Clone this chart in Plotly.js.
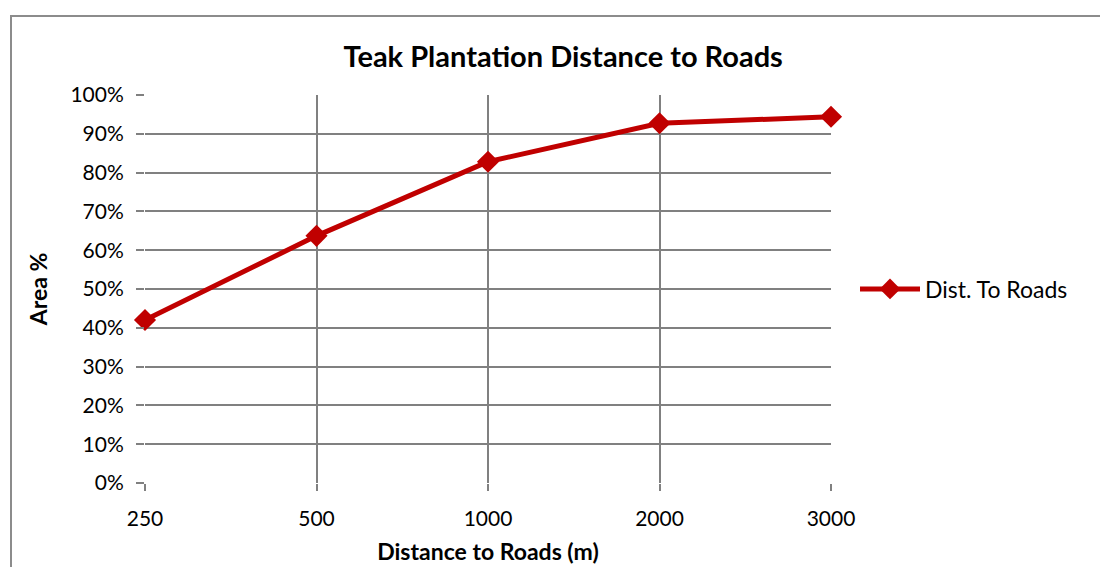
<!DOCTYPE html>
<html>
<head>
<meta charset="utf-8">
<script src="https://cdn.plot.ly/plotly-3.0.1.min.js"></script>
<style>
html,body{margin:0;padding:0;background:#fff;}
#frame{position:absolute;left:10px;top:15px;width:1200px;height:700px;border:2px solid #8c8c8c;box-sizing:border-box;pointer-events:none;z-index:5;}
#chart{position:absolute;left:0;top:0;width:1100px;height:567px;}
</style>
</head>
<body>
<div id="chart"></div>
<div id="frame"></div>
<script>
const categories = ["250", "500", "1000", "2000", "3000"];
const areaPct = [42.0, 63.7, 82.8, 92.7, 94.4];
const yTickVals = [0,10,20,30,40,50,60,70,80,90,100];
const yTickText = ["0%","10%","20%","30%","40%","50%","60%","70%","80%","90%","100%"];
const seriesName = "Dist. To Roads";

const font = "Lato, 'Open Sans', 'Liberation Sans', sans-serif";
const grid = "#808080";

const trace = {
  x: categories,
  y: areaPct,
  type: "scatter",
  mode: "lines+markers",
  name: seriesName,
  line: {color: "#c00000", width: 5},
  marker: {symbol: "diamond", size: 17, color: "#c00000"},
  cliponaxis: false
};

const layout = {
  width: 1100, height: 567,
  margin: {l: 145, r: 269, t: 95, b: 84},
  paper_bgcolor: "#fff", plot_bgcolor: "#fff",
  font: {family: font, color: "#000", size: 21},
  title: {text: "<b>Teak Plantation Distance to Roads</b>", x: 0.512, xanchor: "center", y: 0.9, yanchor: "middle", font: {size: 29, family: font}},
  xaxis: {
    type: "category",
    range: [0, 4],
    showgrid: true, gridcolor: grid, gridwidth: 2,
    showline: false, zeroline: false,
    ticks: "outside", ticklen: 7, tickwidth: 2, tickcolor: grid,
    ticklabelstandoff: 10,
    tickfont: {size: 21},
    title: {text: "<b>Distance to Roads (m)</b>", standoff: 14, font: {size: 23}}
  },
  yaxis: {
    range: [0, 100],
    tickvals: yTickVals, ticktext: yTickText,
    showgrid: true, gridcolor: grid, gridwidth: 2,
    showline: false, zeroline: false,
    ticks: "outside", ticklen: 8, tickwidth: 2, tickcolor: grid,
    ticklabelstandoff: 8,
    tickfont: {size: 21},
    title: {text: "<b>Area %</b>", standoff: 16, font: {size: 23}}
  },
  showlegend: true,
  legend: {x: 1.035, xanchor: "left", y: 0.50, yanchor: "middle", font: {size: 23}, itemwidth: 60, bgcolor: "rgba(0,0,0,0)"}
};

Plotly.newPlot("chart", [trace], layout, {displayModeBar: false, staticPlot: true});
</script>
</body>
</html>
